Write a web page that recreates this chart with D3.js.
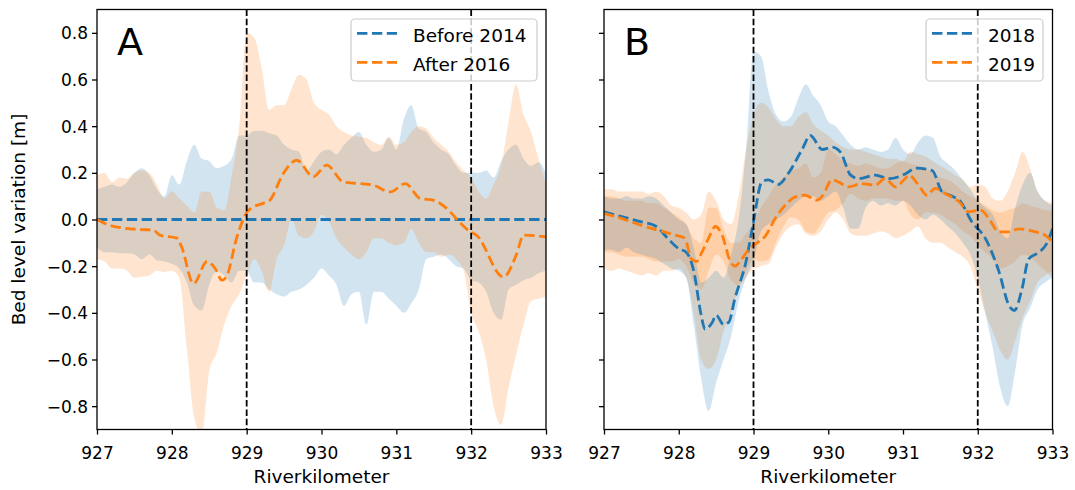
<!DOCTYPE html>
<html>
<head>
<meta charset="utf-8">
<script src="https://cdn.jsdelivr.net/npm/d3@7/dist/d3.min.js"></script>
<style>
  body { margin: 0; background: #fff; }
  text { font-family: "DejaVu Sans", sans-serif; fill: #000; }
</style>
</head>
<body>
<svg id="fig" width="1075" height="490"></svg>
<script>
// ---- data ----
var xTicks = [927, 928, 929, 930, 931, 932, 933];
var yTicks = [-0.8, -0.6, -0.4, -0.2, 0.0, 0.2, 0.4, 0.6, 0.8];
var markKm = [929, 932];

// sampling positions of the shaded bands
var kmGrid = [927.0,927.1,927.2,927.3,927.4,927.5,927.6,927.7,927.8,927.9,
              928.0,928.1,928.2,928.3,928.4,928.5,928.6,928.7,928.8,928.9,
              929.0,929.1,929.2,929.3,929.4,929.5,929.6,929.7,929.8,929.9,
              930.0,930.1,930.2,930.3,930.4,930.5,930.6,930.7,930.8,930.9,
              931.0,931.1,931.2,931.3,931.4,931.5,931.6,931.7,931.8,931.9,
              932.0,932.1,932.2,932.3,932.4,932.5,932.6,932.7,932.8,932.9,933.0];

// Panel A bands
var aBlueHi = [0.13,0.14,0.15,0.14,0.16,0.20,0.22,0.19,0.13,0.10,
               0.19,0.15,0.25,0.32,0.26,0.25,0.22,0.23,0.26,0.36,
               0.36,0.38,0.38,0.37,0.36,0.32,0.30,0.29,0.21,0.25,
               0.29,0.30,0.28,0.32,0.35,0.375,0.32,0.29,0.30,0.35,
               0.30,0.43,0.49,0.39,0.375,0.33,0.30,0.28,0.23,0.20,
               0.20,0.20,0.21,0.18,0.25,0.30,0.32,0.26,0.23,0.245,0.20];
var aBlueLo = [-0.12,-0.14,-0.14,-0.145,-0.145,-0.15,-0.17,-0.15,-0.175,-0.18,
               -0.19,-0.21,-0.27,-0.37,-0.39,-0.28,-0.22,-0.24,-0.27,-0.22,
               -0.22,-0.27,-0.27,-0.30,-0.32,-0.33,-0.31,-0.30,-0.28,-0.25,
               -0.21,-0.24,-0.28,-0.37,-0.32,-0.31,-0.45,-0.31,-0.31,-0.34,
               -0.37,-0.40,-0.36,-0.30,-0.17,-0.16,-0.15,-0.17,-0.20,-0.21,
               -0.26,-0.27,-0.31,-0.40,-0.43,-0.30,-0.28,-0.26,-0.25,-0.23,-0.22];
var aOrangeHi = [0.19,0.20,0.16,0.18,0.175,0.20,0.21,0.20,0.15,0.09,
                 0.12,0.09,0.06,0.03,0.12,0.12,0.05,0.04,0.19,0.40,
                 0.80,0.78,0.65,0.47,0.49,0.49,0.56,0.62,0.60,0.50,
                 0.47,0.45,0.40,0.375,0.36,0.355,0.35,0.33,0.32,0.355,
                 0.32,0.33,0.375,0.40,0.39,0.35,0.32,0.29,0.245,0.21,
                 0.18,0.12,0.09,0.15,0.23,0.42,0.58,0.45,0.375,0.26,0.15];
var aOrangeLo = [-0.17,-0.18,-0.21,-0.21,-0.22,-0.25,-0.245,-0.24,-0.22,-0.225,
                 -0.22,-0.25,-0.55,-0.85,-0.92,-0.65,-0.57,-0.45,-0.37,-0.32,
                 -0.24,-0.17,-0.22,-0.31,-0.17,-0.11,0.0,-0.07,-0.08,-0.05,
                 0.02,-0.01,-0.08,-0.12,-0.15,-0.17,-0.14,-0.08,-0.08,-0.10,
                 -0.11,-0.10,-0.04,-0.10,-0.14,-0.14,-0.16,-0.15,-0.17,-0.22,
                 -0.40,-0.48,-0.60,-0.80,-0.88,-0.72,-0.58,-0.45,-0.35,-0.34,-0.33];

// Panel A mean lines
var aBlueKm = [927, 933];
var aBlueMean = [0, 0];
var aOrangeKm = [927.0,927.17,927.57,927.75,927.84,928.07,928.13,928.29,928.47,928.58,
                 928.67,928.73,928.87,929.0,929.09,929.22,929.31,929.49,929.67,929.89,
                 930.07,930.29,930.69,930.92,931.12,931.32,931.49,931.72,931.81,931.99,
                 932.07,932.43,932.61,932.70,933.0];
var aOrangeMean = [0.0,-0.025,-0.043,-0.045,-0.067,-0.08,-0.117,-0.275,-0.18,-0.21,
                   -0.26,-0.245,-0.075,0.03,0.054,0.069,0.083,0.197,0.254,0.183,
                   0.233,0.161,0.147,0.118,0.154,0.09,0.083,0.033,0.0,-0.053,
                   -0.067,-0.246,-0.146,-0.067,-0.075];

// Panel B bands
var bBlueHi = [0.10,0.09,0.09,0.10,0.09,0.09,0.10,0.09,0.06,0.03,
               0.0,-0.02,-0.12,-0.27,-0.25,-0.22,-0.25,-0.15,0.0,0.30,
               0.72,0.70,0.55,0.45,0.42,0.44,0.52,0.58,0.53,0.49,
               0.42,0.40,0.36,0.32,0.30,0.31,0.30,0.29,0.30,0.35,
               0.30,0.28,0.33,0.36,0.35,0.27,0.24,0.21,0.17,0.13,
               0.08,0.05,0.02,-0.05,-0.08,0.05,0.15,0.20,0.12,0.08,0.06];
var bBlueLo = [-0.13,-0.13,-0.14,-0.12,-0.14,-0.15,-0.16,-0.17,-0.19,-0.21,
               -0.22,-0.25,-0.45,-0.68,-0.82,-0.70,-0.60,-0.50,-0.35,-0.25,
               -0.18,-0.05,-0.02,0.0,0.02,0.05,0.08,0.10,0.10,0.08,
               0.10,0.12,0.05,-0.04,-0.04,0.05,0.08,0.06,0.07,0.06,
               0.08,0.06,0.02,0.0,0.02,0.0,-0.03,-0.06,-0.10,-0.15,
               -0.25,-0.40,-0.55,-0.72,-0.80,-0.65,-0.45,-0.38,-0.30,-0.27,-0.25];
var bOrangeOutHi = [0.13,0.13,0.12,0.12,0.12,0.12,0.11,0.12,0.10,0.06,
                    0.05,0.03,0.0,0.02,0.12,0.08,0.0,-0.02,0.10,0.30,
                    0.45,0.50,0.48,0.43,0.40,0.40,0.44,0.46,0.41,0.38,
                    0.36,0.33,0.31,0.30,0.30,0.29,0.28,0.27,0.26,0.26,
                    0.25,0.29,0.28,0.27,0.25,0.23,0.21,0.19,0.17,0.14,
                    0.15,0.14,0.09,0.08,0.12,0.20,0.29,0.22,0.12,0.08,0.07];
var bOrangeOutLo = [-0.21,-0.22,-0.21,-0.22,-0.23,-0.24,-0.23,-0.24,-0.22,-0.22,
                    -0.21,-0.25,-0.40,-0.60,-0.64,-0.60,-0.48,-0.40,-0.30,-0.25,
                    -0.21,-0.20,-0.19,-0.12,-0.06,-0.03,-0.02,-0.06,-0.07,-0.05,
                    0.0,0.03,0.0,-0.06,-0.07,-0.07,-0.06,-0.05,-0.06,-0.08,
                    -0.07,-0.05,-0.03,-0.08,-0.10,-0.10,-0.12,-0.14,-0.16,-0.20,
                    -0.30,-0.40,-0.48,-0.56,-0.60,-0.52,-0.42,-0.35,-0.27,-0.24,-0.22];
var bOrangeInHi = [0.10,0.10,0.09,0.08,0.08,0.08,0.07,0.07,0.05,0.03,
                   0.01,-0.02,-0.08,-0.10,0.05,0.05,-0.04,-0.10,-0.10,-0.06,
                   -0.02,0.05,0.10,0.15,0.18,0.21,0.22,0.24,0.18,0.20,
                   0.30,0.28,0.25,0.24,0.23,0.24,0.23,0.22,0.22,0.24,
                   0.25,0.24,0.23,0.22,0.20,0.18,0.17,0.15,0.12,0.10,
                   0.08,0.06,0.04,0.03,0.04,0.05,0.07,0.06,0.05,0.04,0.04];
var bOrangeInLo = [-0.14,-0.14,-0.15,-0.16,-0.16,-0.16,-0.17,-0.18,-0.18,-0.18,
                   -0.17,-0.20,-0.27,-0.30,-0.22,-0.15,-0.18,-0.26,-0.28,-0.22,
                   -0.17,-0.18,-0.17,-0.10,-0.03,0.01,0.0,-0.05,-0.06,-0.02,
                   0.03,0.04,0.07,0.11,0.09,0.08,0.09,0.09,0.09,0.08,
                   0.08,0.02,0.0,0.03,0.03,0.02,0.0,-0.02,-0.05,-0.07,
                   -0.11,-0.14,-0.17,-0.21,-0.20,-0.18,-0.15,-0.16,-0.19,-0.22,-0.25];

// Panel B mean lines
var bBlueKm = [927.0,927.25,927.5,927.7,927.85,928.0,928.1,928.2,928.3,928.35,
               928.45,928.5,928.6,928.67,928.75,928.9,929.0,929.11,929.2,929.33,
               929.47,929.65,929.76,929.92,930.05,930.16,930.3,930.41,930.63,930.81,
               931.03,931.17,931.39,931.52,931.66,931.77,931.92,932.1,932.28,932.42,
               932.49,932.59,932.68,932.82,932.91,933.0];
var bBlueMean = [0.033,0.011,-0.01,-0.03,-0.08,-0.125,-0.14,-0.22,-0.41,-0.47,
                 -0.44,-0.41,-0.45,-0.44,-0.34,-0.18,-0.01,0.16,0.17,0.15,
                 0.2,0.3,0.36,0.3,0.31,0.29,0.19,0.175,0.19,0.175,
                 0.195,0.22,0.21,0.12,0.10,0.076,-0.01,-0.08,-0.22,-0.37,
                 -0.39,-0.3,-0.17,-0.14,-0.11,-0.04];
var bOrangeKm = [927.0,927.24,927.5,927.77,927.95,928.08,928.17,928.24,928.31,928.4,
                 928.49,928.58,928.69,928.75,928.84,928.96,929.05,929.16,929.29,929.42,
                 929.56,929.69,929.85,929.92,930.05,930.14,930.27,930.45,930.63,930.76,
                 930.9,931.03,931.08,931.21,931.32,931.43,931.57,931.75,931.88,932.04,
                 932.15,932.28,932.42,932.55,932.77,932.9,933.0];
var bOrangeMean = [0.026,0.004,-0.025,-0.05,-0.067,-0.08,-0.17,-0.18,-0.14,-0.08,
                   -0.03,-0.067,-0.18,-0.2,-0.17,-0.12,-0.1,-0.07,0.004,0.06,
                   0.097,0.104,0.083,0.1,0.17,0.16,0.14,0.154,0.147,0.176,
                   0.14,0.176,0.19,0.147,0.104,0.133,0.11,0.076,0.033,0.04,
                   0.004,-0.053,-0.053,-0.04,-0.053,-0.067,-0.096];

// ---- figure ----
var blue = "#1f77b4", orange = "#ff7f0e";
var svg = d3.select("#fig");
var top0 = 9.5, bottom0 = 429.5;
var y = d3.scaleLinear().domain([-0.9, 0.9]).range([bottom0, top0]);
var fmtY = function(d) { return d3.format(".1f")(d).replace("-", "\u2212"); };

function drawPanel(cfg) {
   var x = d3.scaleLinear().domain([927, 933]).range([cfg.left, cfg.right]);
   var g = svg.append("g");

   svg.append("clipPath").attr("id", "clip" + cfg.name)
      .append("rect")
      .attr("x", cfg.left).attr("y", top0)
      .attr("width", cfg.right - cfg.left).attr("height", bottom0 - top0);

   var plot = g.append("g").attr("clip-path", "url(#clip" + cfg.name + ")");

   cfg.bands.forEach(function(b) {
      var area = d3.area()
         .curve(d3.curveMonotoneX)
         .x(function(d, i) { return x(kmGrid[i]); })
         .y0(function(d, i) { return y(b.lo[i]); })
         .y1(function(d, i) { return y(b.hi[i]); });
      plot.append("path")
         .datum(b.lo)
         .attr("d", area)
         .attr("fill", b.color)
         .attr("fill-opacity", 0.2);
   });

   cfg.lines.forEach(function(l) {
      var line = d3.line()
         .curve(d3.curveMonotoneX)
         .x(function(d, i) { return x(l.km[i]); })
         .y(function(d) { return y(d); });
      plot.append("path")
         .datum(l.values)
         .attr("d", line)
         .attr("fill", "none")
         .attr("stroke", l.color)
         .attr("stroke-width", 2.8)
         .attr("stroke-dasharray", "10.4,4.5");
   });

   plot.selectAll(".vline")
      .data(markKm)
      .enter()
      .append("line")
      .attr("x1", function(d) { return x(d); })
      .attr("x2", function(d) { return x(d); })
      .attr("y1", top0).attr("y2", bottom0)
      .attr("stroke", "#000")
      .attr("stroke-width", 1.8)
      .attr("stroke-dasharray", "6.5,2.8");

   // axes
   var xAxis = g.append("g")
      .attr("transform", "translate(0," + bottom0 + ")")
      .call(d3.axisBottom(x).tickValues(xTicks).tickFormat(d3.format("d")).tickSize(5).tickSizeOuter(0));
   xAxis.selectAll("text").attr("y", 29).attr("dy", null)
      .style("font-size", "17px").style("font-family", "DejaVu Sans");

   var yAxis = g.append("g")
      .attr("transform", "translate(" + cfg.left + ",0)")
      .call(d3.axisLeft(y).tickValues(yTicks).tickFormat(cfg.yLabels ? fmtY : "").tickSize(5).tickSizeOuter(0));
   yAxis.selectAll("text").attr("x", -9).attr("dy", "0.36em")
      .style("font-size", "17px").style("font-family", "DejaVu Sans");

   g.selectAll(".domain").remove();
   g.selectAll(".tick line").attr("stroke", "#000").attr("stroke-width", 1.3);

   g.append("rect")
      .attr("x", cfg.left).attr("y", top0)
      .attr("width", cfg.right - cfg.left).attr("height", bottom0 - top0)
      .attr("fill", "none")
      .attr("stroke", "#000")
      .attr("stroke-width", 1.3);

   g.append("text")
      .attr("x", (cfg.left + cfg.right) / 2)
      .attr("y", 483)
      .attr("text-anchor", "middle")
      .style("font-size", "18.5px")
      .text("Riverkilometer");

   g.append("text")
      .attr("x", cfg.left + 20)
      .attr("y", 55)
      .style("font-size", "38px")
      .text(cfg.name);

   // legend
   var lg = g.append("g");
   lg.append("rect")
      .attr("x", cfg.legX).attr("y", 19)
      .attr("width", cfg.legW).attr("height", 62)
      .attr("rx", 4)
      .attr("fill", "#fff").attr("fill-opacity", 0.8)
      .attr("stroke", "#ccc").attr("stroke-width", 1.2);
   cfg.lines.forEach(function(l, i) {
      var ly = 33.3 + i * 29;
      lg.append("line")
         .attr("x1", cfg.legX + 6).attr("x2", cfg.legX + 46)
         .attr("y1", ly).attr("y2", ly)
         .attr("stroke", l.color)
         .attr("stroke-width", 2.8)
         .attr("stroke-dasharray", "10.4,4.5");
      lg.append("text")
         .attr("x", cfg.legX + 62)
         .attr("y", ly + 8.4)
         .style("font-size", "18.5px")
         .text(l.label);
   });
}

drawPanel({
   name: "A", left: 97, right: 546, yLabels: true, legX: 351, legW: 186,
   bands: [
      {lo: aBlueLo, hi: aBlueHi, color: blue},
      {lo: aOrangeLo, hi: aOrangeHi, color: orange}
   ],
   lines: [
      {km: aBlueKm, values: aBlueMean, color: blue, label: "Before 2014"},
      {km: aOrangeKm, values: aOrangeMean, color: orange, label: "After 2016"}
   ]
});

drawPanel({
   name: "B", left: 604, right: 1052.5, yLabels: false, legX: 926, legW: 117,
   bands: [
      {lo: bOrangeOutLo, hi: bOrangeOutHi, color: orange},
      {lo: bOrangeInLo, hi: bOrangeInHi, color: orange},
      {lo: bBlueLo, hi: bBlueHi, color: blue}
   ],
   lines: [
      {km: bBlueKm, values: bBlueMean, color: blue, label: "2018"},
      {km: bOrangeKm, values: bOrangeMean, color: orange, label: "2019"}
   ]
});

svg.append("text")
   .attr("transform", "translate(25,219.5) rotate(-90)")
   .attr("text-anchor", "middle")
   .style("font-size", "18.5px")
   .text("Bed level variation [m]");
</script>
</body>
</html>
